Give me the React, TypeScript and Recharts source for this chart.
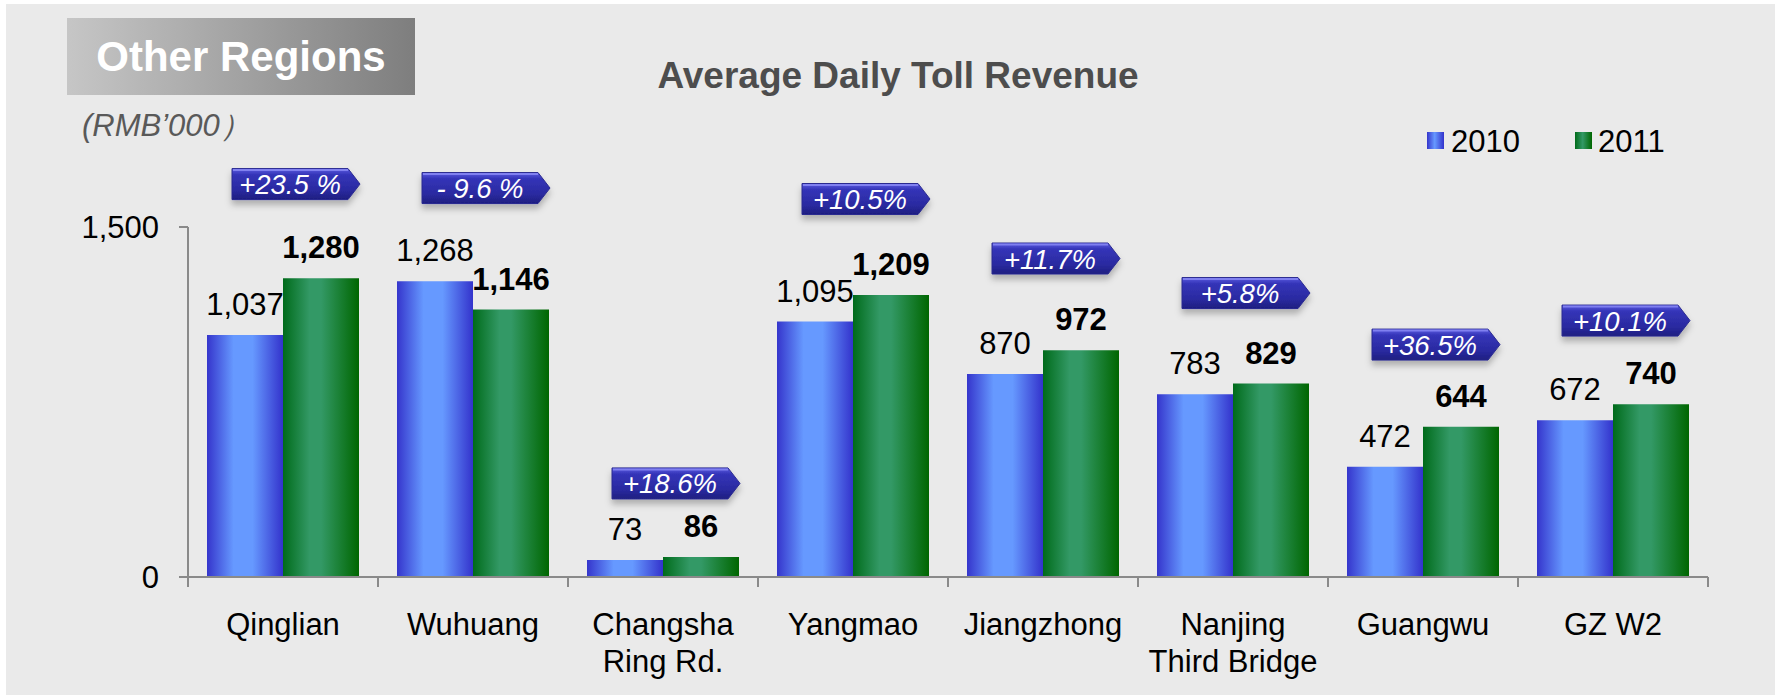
import React from 'react';
import { BarChart, Bar, XAxis, YAxis, ReferenceDot, LabelList } from 'recharts';

// ---------- data ----------
const categories = [
  'Qinglian',
  'Wuhuang',
  'Changsha\nRing Rd.',
  'Yangmao',
  'Jiangzhong',
  'Nanjing\nThird Bridge',
  'Guangwu',
  'GZ W2',
];
const revenue2010 = [1037, 1268, 73, 1095, 870, 783, 472, 672];
const revenue2011 = [1280, 1146, 86, 1209, 972, 829, 644, 740];
const growthLabels = ['+23.5 %', '- 9.6 %', '+18.6%', '+10.5%', '+11.7%', '+5.8%', '+36.5%', '+10.1%'];
// level (in RMB'000 on the value axis) at which each growth badge sits
const growthBadgeLevel = [1684, 1667, 401, 1620, 1365, 1217, 996, 1099];
const yTicks = [0, 1500];
const seriesNames = ['2010', '2011'];

const chartTitle = 'Average Daily Toll Revenue';
const sectionTitle = 'Other Regions';
const unitLabel = '(RMB\u2019000\uFF09';

// ---------- layout ----------
const W = 1775;
const H = 696;
const PLOT_LEFT = 188;
const PLOT_RIGHT = 1708;
const PLOT_TOP = 227;
const PLOT_BOTTOM = 577;
const Y_AXIS_W = 120;
const X_AXIS_H = 100;
const FONT = "'Liberation Sans', Arial, Helvetica, sans-serif";
const AXIS_COLOR = '#8a8a8a';
const BADGE_DX = 13;

const data = categories.map((c, i) => ({
  name: c,
  y2010: revenue2010[i],
  y2011: revenue2011[i],
}));

const fmt = (v: any) => Number(v).toLocaleString('en-US');

const XTick = (props: any) => {
  const { x, y, payload, index } = props;
  const half = (PLOT_RIGHT - PLOT_LEFT) / categories.length / 2;
  const lines = String(payload.value).split('\n');
  return (
    <g>
      <line x1={x - half} x2={x - half} y1={y} y2={y + 10} stroke={AXIS_COLOR} strokeWidth={2} />
      {index === categories.length - 1 && (
        <line x1={x + half} x2={x + half} y1={y} y2={y + 10} stroke={AXIS_COLOR} strokeWidth={2} />
      )}
      <text x={x} y={y + 58} textAnchor="middle" fontSize={31} fill="#000" fontFamily={FONT}>
        {lines.map((l, i) => (
          <tspan key={i} x={x} dy={i === 0 ? 0 : 37}>
            {l}
          </tspan>
        ))}
      </text>
    </g>
  );
};

const makeValueLabel = (bold: boolean) => (props: any) => {
  const { x, y, width, value } = props;
  return (
    <text
      x={Number(x) + Number(width) / 2}
      y={Number(y) - 20}
      textAnchor="middle"
      fontSize={31}
      fontWeight={bold ? 700 : 400}
      fill="#000"
      fontFamily={FONT}
    >
      {fmt(value)}
    </text>
  );
};

const Badge = (props: any) => {
  const { cx, cy, text } = props;
  const w = 116;
  const tip = 12;
  const h = 31;
  const left = cx + BADGE_DX - (w + tip) / 2;
  const top = cy - h / 2;
  const d = `M${left},${top} H${left + w} L${left + w + tip},${cy} L${left + w},${top + h} H${left} Z`;
  return (
    <g>
      <path d={d} fill="url(#badgeFill)" stroke="#2a2a90" strokeWidth={1} filter="url(#badgeShadow)" />
      <line x1={left + 1} x2={left + w} y1={top + 1.5} y2={top + 1.5} stroke="#8080f0" strokeWidth={2} />
      <text
        x={left + w / 2}
        y={cy + 10}
        textAnchor="middle"
        fontSize={27.5}
        fontStyle="italic"
        fill="#fff"
        fontFamily={FONT}
      >
        {text}
      </text>
    </g>
  );
};

export default function App() {
  return (
    <div style={{ position: 'absolute', left: 0, top: 0, width: W, height: H, background: '#fff', overflow: 'hidden' }}>
      <div style={{ position: 'absolute', left: 6, top: 4, width: W - 6, height: H - 5, background: '#EAEAEA' }} />
      <div style={{ position: 'absolute', left: 0, top: 0 }}>
        <BarChart
          width={W}
          height={H}
          data={data}
          margin={{ top: PLOT_TOP, right: W - PLOT_RIGHT, bottom: H - PLOT_BOTTOM - X_AXIS_H, left: PLOT_LEFT - Y_AXIS_W }}
          barCategoryGap="10%"
          barGap={0}
        >
          <defs>
            <linearGradient id="grad2010" x1="0" y1="0" x2="1" y2="0">
              <stop offset="0" stopColor="#3535CC" />
              <stop offset="0.35" stopColor="#6699FF" />
              <stop offset="0.6" stopColor="#6699FF" />
              <stop offset="1" stopColor="#3333CC" />
            </linearGradient>
            <linearGradient id="grad2011" x1="0" y1="0" x2="1" y2="0">
              <stop offset="0" stopColor="#006B1A" />
              <stop offset="0.35" stopColor="#339966" />
              <stop offset="0.5" stopColor="#339966" />
              <stop offset="1" stopColor="#006600" />
            </linearGradient>
            <linearGradient id="badgeFill" x1="0" y1="0" x2="0" y2="1">
              <stop offset="0" stopColor="#5c5ce0" />
              <stop offset="0.2" stopColor="#3434b8" />
              <stop offset="0.7" stopColor="#2a2aa0" />
              <stop offset="1" stopColor="#1e1e80" />
            </linearGradient>
            <filter id="badgeShadow" x="-20%" y="-40%" width="140%" height="200%">
              <feDropShadow dx="0" dy="5" stdDeviation="3" floodColor="#000" floodOpacity="0.25" />
            </filter>
          </defs>
          <XAxis
            dataKey="name"
            type="category"
            height={X_AXIS_H}
            interval={0}
            tickLine={false}
            tickSize={0}
            tickMargin={0}
            axisLine={{ stroke: AXIS_COLOR, strokeWidth: 2 }}
            tick={<XTick />}
          />
          <YAxis
            width={Y_AXIS_W}
            domain={[0, 1500]}
            ticks={yTicks}
            interval={0}
            tickSize={9}
            tickMargin={20}
            tickFormatter={fmt}
            axisLine={{ stroke: AXIS_COLOR, strokeWidth: 2 }}
            tickLine={{ stroke: AXIS_COLOR, strokeWidth: 2 }}
            tick={{ fontSize: 31, fill: '#000', fontFamily: FONT }}
          />
          <Bar dataKey="y2010" name={seriesNames[0]} fill="url(#grad2010)" isAnimationActive={false}>
            <LabelList dataKey="y2010" content={makeValueLabel(false)} />
          </Bar>
          <Bar dataKey="y2011" name={seriesNames[1]} fill="url(#grad2011)" isAnimationActive={false}>
            <LabelList dataKey="y2011" content={makeValueLabel(true)} />
          </Bar>
          {categories.map((c, i) => (
            <ReferenceDot
              key={c}
              x={c}
              y={growthBadgeLevel[i]}
              ifOverflow="visible"
              shape={(p: any) => <Badge cx={p.cx} cy={p.cy} text={growthLabels[i]} />}
            />
          ))}
        </BarChart>
      </div>
      <svg width={W} height={H} style={{ position: 'absolute', left: 0, top: 0, pointerEvents: 'none' }}>
        <defs>
          <linearGradient id="titleBox" x1="0" y1="0" x2="1" y2="0">
            <stop offset="0" stopColor="#C6C6C6" />
            <stop offset="1" stopColor="#7E7E7E" />
          </linearGradient>
          <linearGradient id="lg2010" x1="0" y1="0" x2="1" y2="0">
            <stop offset="0" stopColor="#3535CC" />
            <stop offset="0.45" stopColor="#6699FF" />
            <stop offset="1" stopColor="#3333CC" />
          </linearGradient>
          <linearGradient id="lg2011" x1="0" y1="0" x2="1" y2="0">
            <stop offset="0" stopColor="#006B1A" />
            <stop offset="0.45" stopColor="#339966" />
            <stop offset="1" stopColor="#006600" />
          </linearGradient>
        </defs>
        <rect x={67} y={18} width={348} height={77} fill="url(#titleBox)" />
        <text x={241} y={71} textAnchor="middle" fontSize={42} fontWeight={700} fill="#fff" fontFamily={FONT}>
          {sectionTitle}
        </text>
        <text x={898} y={88} textAnchor="middle" fontSize={37} fontWeight={700} fill="#4d4d4d" fontFamily={FONT}>
          {chartTitle}
        </text>
        <text x={82} y={136} fontSize={31} fontStyle="italic" fill="#595959" fontFamily={FONT}>
          {unitLabel}
        </text>
        <rect x={1427} y={132} width={17} height={17} fill="url(#lg2010)" />
        <text x={1451} y={152} fontSize={31} fill="#000" fontFamily={FONT}>
          {seriesNames[0]}
        </text>
        <rect x={1575} y={132} width={17} height={17} fill="url(#lg2011)" />
        <text x={1598} y={152} fontSize={31} fill="#000" fontFamily={FONT}>
          {seriesNames[1]}
        </text>
      </svg>
    </div>
  );
}
